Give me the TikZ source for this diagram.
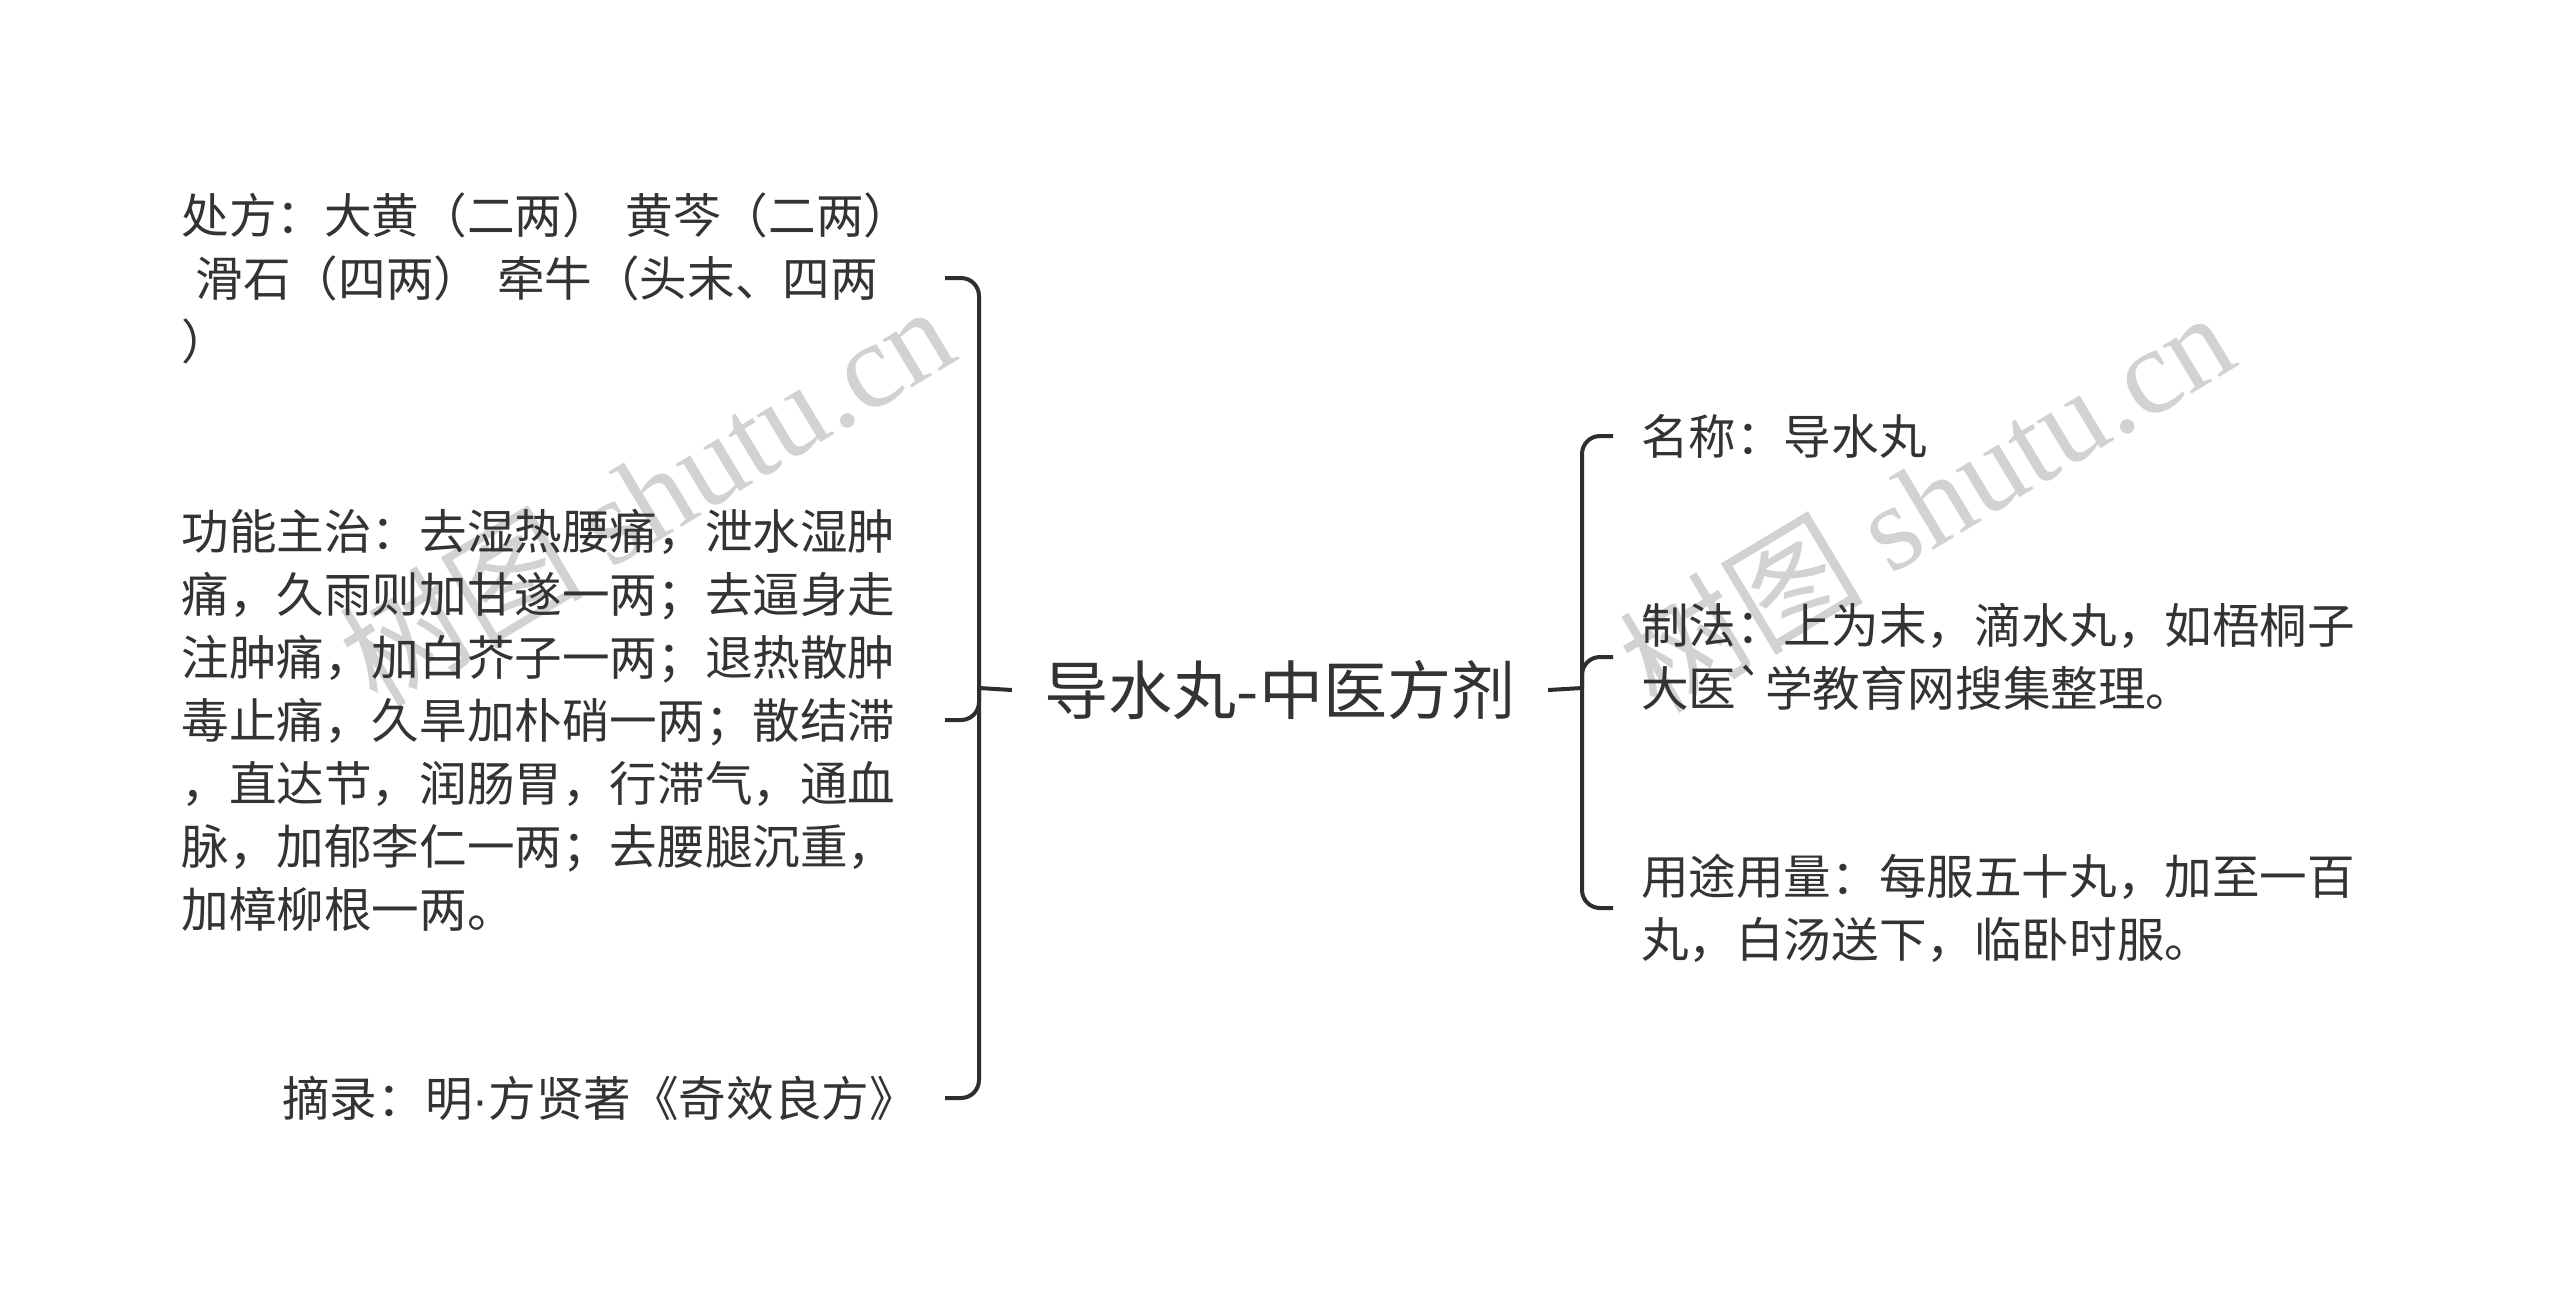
\documentclass[tikz,border=0pt]{standalone}
\usepackage{fontspec}
\setmainfont{Noto Sans CJK SC}
\newfontfamily\wmserif{Liberation Serif}
\newfontfamily\cjkfont{Noto Sans CJK SC}
\newfontfamily\rawcjk[Ligatures=TeXOff]{Noto Sans CJK SC}
\newfontfamily\latinsans{Liberation Sans}
\definecolor{textc}{HTML}{333333}
\definecolor{linec}{HTML}{2E2E2E}
\definecolor{wmc}{HTML}{D2D2D2}
\begin{document}
\begin{tikzpicture}[x=0.5pt,y=-0.5pt,
  conn/.style={draw=linec, line width=2pt, rounded corners=9pt},
  leafL/.style={font=\fontsize{23.8pt}{31.5pt}\selectfont, text=textc, text width=361.8pt,
    inner xsep=0pt, inner ysep=2pt, outer xsep=20pt, outer ysep=0pt, anchor=east},
  leafR/.style={font=\fontsize{23.8pt}{31.5pt}\selectfont, text=textc, text width=361.8pt,
    inner xsep=0pt, inner ysep=2pt, outer xsep=14pt, outer ysep=0pt, anchor=west, align=left},
  rootnode/.style={font=\fontsize{32pt}{38pt}\selectfont, text=textc, inner xsep=16.5pt, inner ysep=4pt, outer sep=0pt},
  wm/.style={text=wmc, font=\fontsize{61pt}{67pt}\selectfont, inner sep=0pt}
]
\useasboundingbox (0,0) rectangle (2560,1314);
\fill[white] (0,0) rectangle (2560,1314);

% watermarks
\node[wm, rotate=31] (wmL) at (646,494) {{\cjkfont 树图} {\wmserif shutu.cn}};
\node[wm, rotate=31] (wmR) at (1926,500) {{\cjkfont 树图} {\wmserif shutu.cn}};

% root
\node[rootnode] (root) at (1280,690) {导水丸-中医方剂};

% junctions
\coordinate (JL) at (979,688);
\coordinate (JR) at (1582,688);

% left children
\node[leafL, align=left] (c1) at (945,278) {处方：大黄（二两）~黄芩（二两）\\\hspace*{0.3em}滑石（四两）~牵牛（头末、四两\\）};
\node[leafL, align=left] (c2) at (945,720) {功能主治：去湿热腰痛，泄水湿肿\\痛，久雨则加甘遂一两；去逼身走\\注肿痛，加白芥子一两；退热散肿\\毒止痛，久旱加朴硝一两；散结滞\\，直达节，润肠胃，行滞气，通血\\脉，加郁李仁一两；去腰腿沉重，\\加樟柳根一两。};
\node[leafL, align=right] (c3) at (945,1098) {摘录：明{\latinsans ·}方贤著《奇效良方》\hspace*{-0.25em}};

% right children
\node[leafR] (d1) at (1613,436) {名称：导水丸};
\node[leafR] (d2) at (1613,657) {制法：上为末，滴水丸，如梧桐子\\大医{\rawcjk `}学教育网搜集整理。};
\node[leafR] (d3) at (1613,908) {用途用量：每服五十丸，加至一百\\丸，白汤送下，临卧时服。};

% connectors
\draw[conn] (root.west) -- (JL);
\draw[conn] (JL) |- (c1.east);
\draw[conn] (JL) |- (c2.east);
\draw[conn] (JL) |- (c3.east);
\draw[conn] (root.east) -- (JR);
\draw[conn] (JR) |- (d1.west);
\draw[conn] (JR) |- (d2.west);
\draw[conn] (JR) |- (d3.west);
\end{tikzpicture}
\end{document}
